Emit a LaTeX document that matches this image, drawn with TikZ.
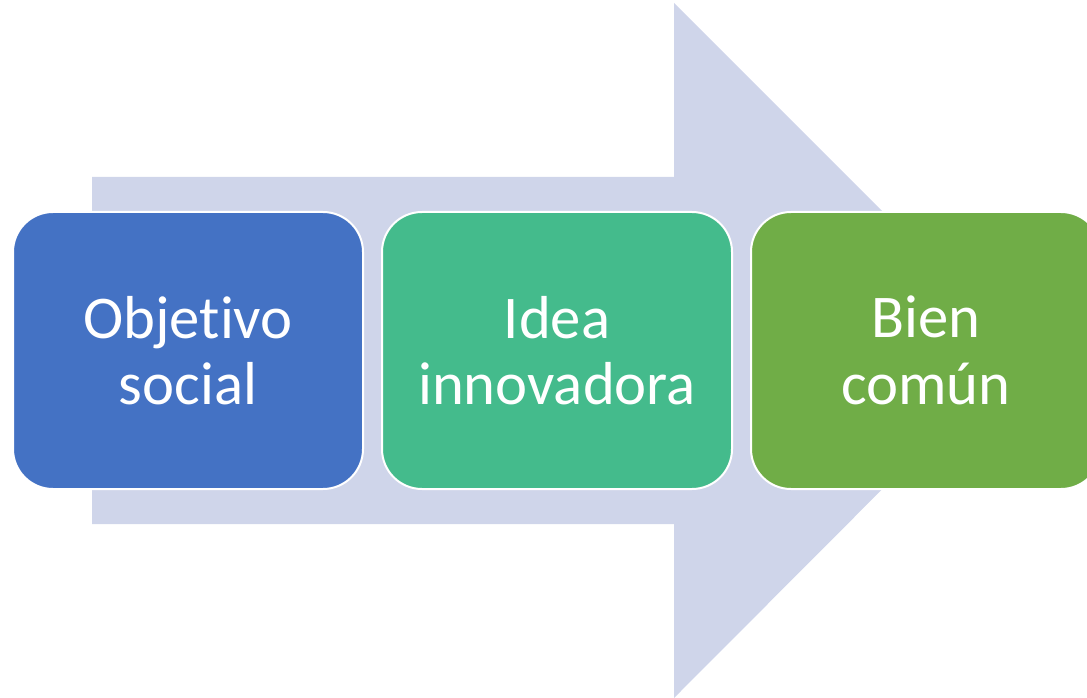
\documentclass[tikz,border=0pt]{standalone}
\usepackage{fontspec}
\setmainfont{Carlito}[Ligatures=NoCommon]
\usepackage{xcolor}
\definecolor{arrowfill}{HTML}{CFD5EA}
\definecolor{stepblue}{HTML}{4472C4}
\definecolor{stepteal}{HTML}{44BB8C}
\definecolor{stepgreen}{HTML}{70AD47}
\tikzset{
  stepbox/.style={draw=white, line width=1.5pt, rounded corners=30pt,
    minimum width=262.5pt, minimum height=207.75pt, text=white, align=center,
    font=\fontsize{45.5}{50}\selectfont}
}

\begin{document}
\begin{tikzpicture}[x=0.75pt, y=-0.75pt]
            \useasboundingbox (0,0) rectangle (1087,698);
            \fill [arrowfill] (92,177) -- (674,177) -- (674,3) -- (1021,350)
                -- (674,698) -- (674,524) -- (92,524) -- cycle;
            \node [stepbox, fill=stepblue] (objetivo) at (188,350.5) {Objetivo\\social};
            \node [stepbox, fill=stepteal] (idea) at (557,350.5) {Idea\\innovadora};
            \node [stepbox, fill=stepgreen] (bien) at (926,350.5) {Bien\\común};
        \end{tikzpicture}
\end{document}
